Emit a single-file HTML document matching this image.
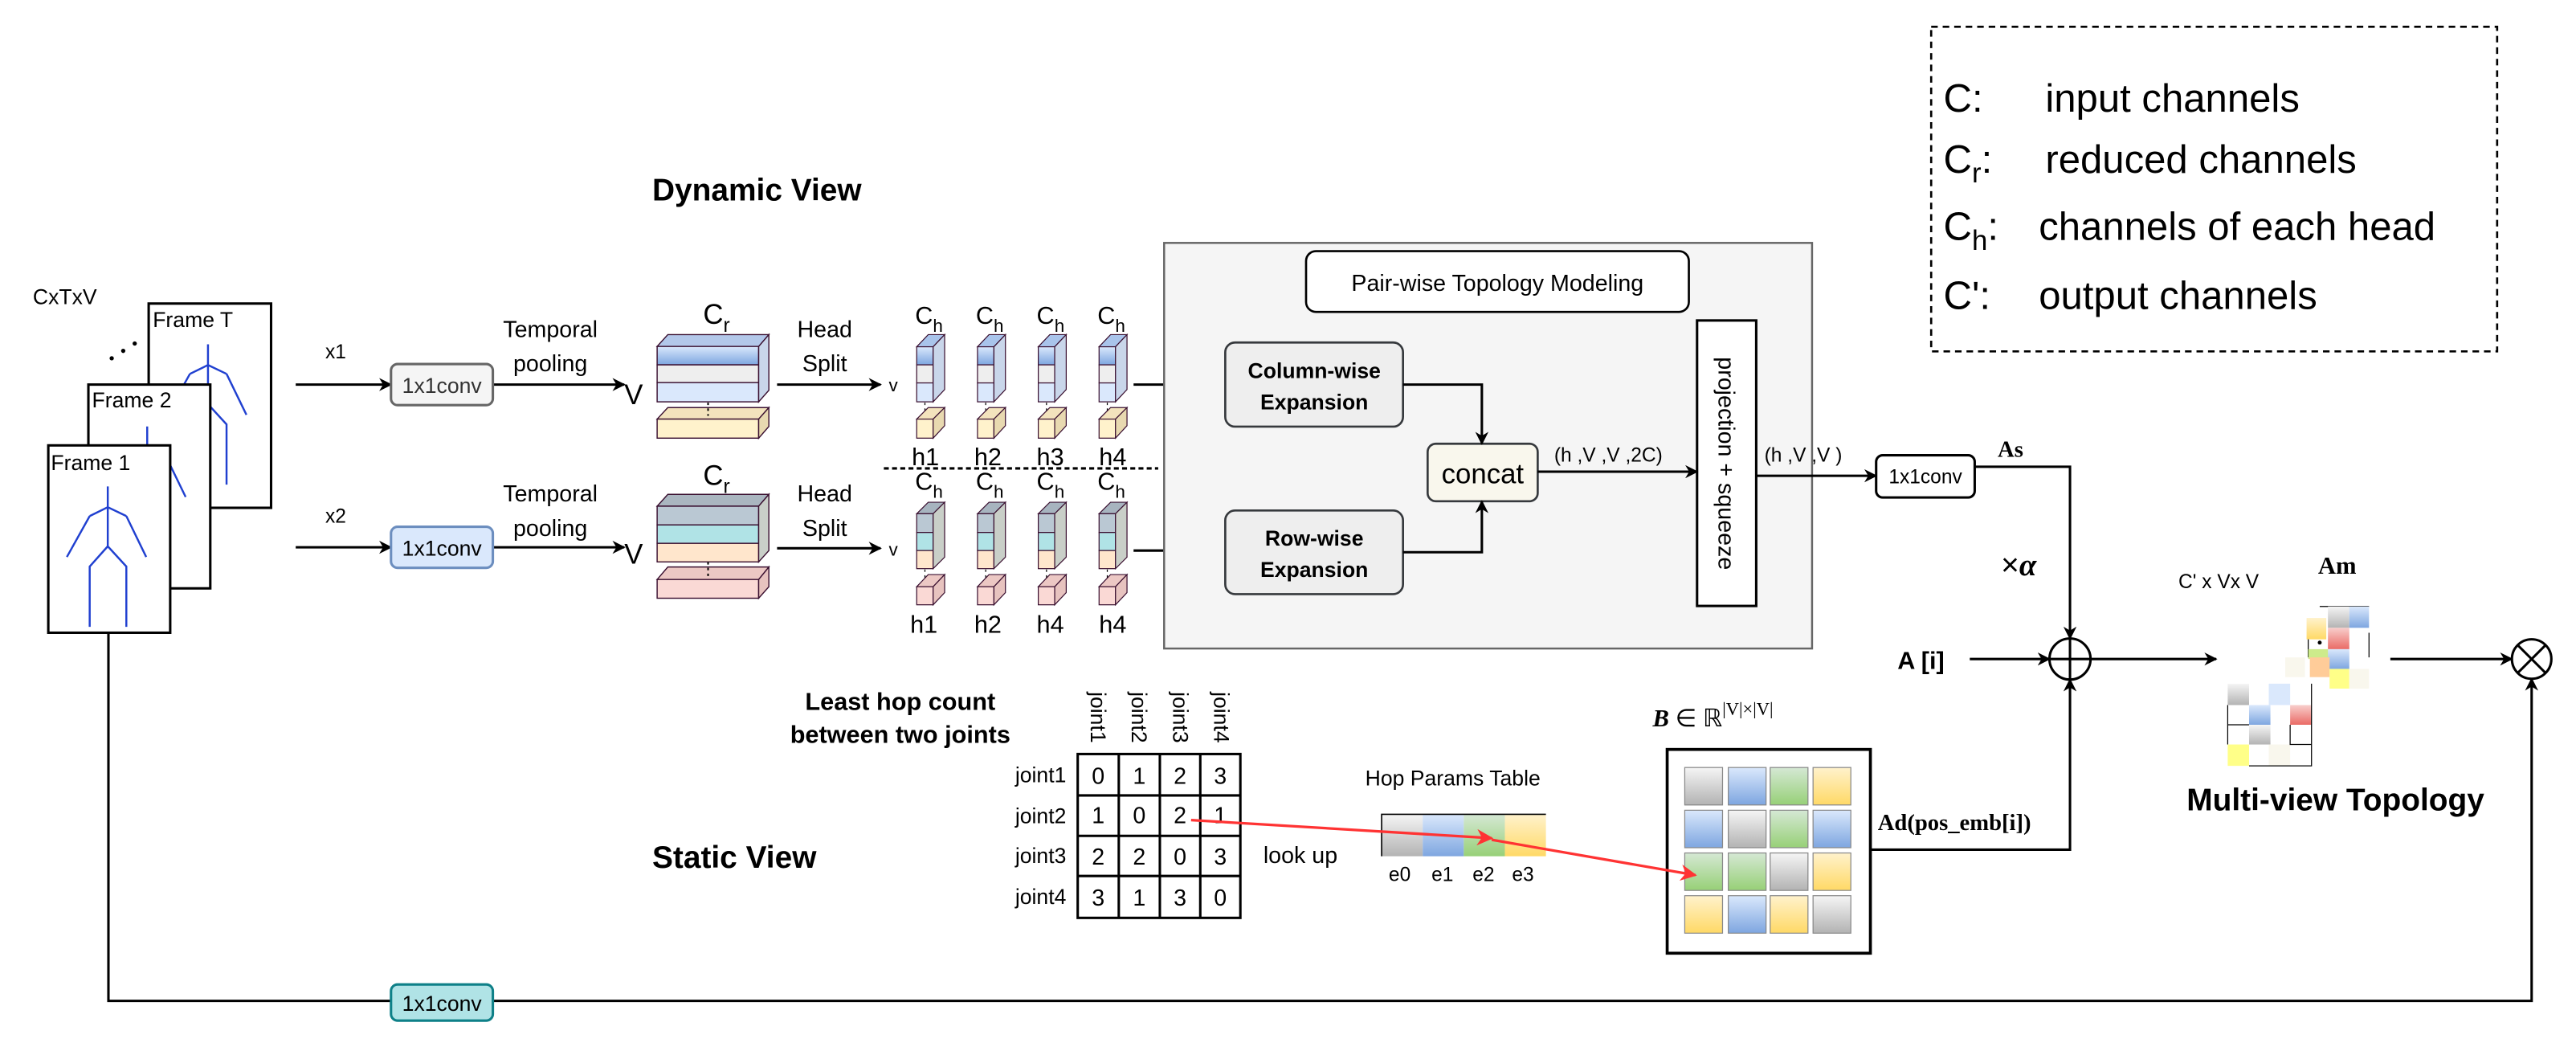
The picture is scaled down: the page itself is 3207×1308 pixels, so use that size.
<!DOCTYPE html>
<html><head><meta charset="utf-8"><style>html,body{margin:0;padding:0;background:#fff}svg{display:block}</style></head>
<body>
<svg xmlns="http://www.w3.org/2000/svg" width="3207" height="1308" viewBox="0 0 1568 639.5" preserveAspectRatio="none" font-family="Liberation Sans, sans-serif">
<defs>
<marker id="ar" viewBox="0 0 10 10" refX="9" refY="5" markerWidth="8" markerHeight="8" markerUnits="userSpaceOnUse" orient="auto"><path d="M0,0 L10,5 L0,10 L3,5 z" fill="#000"/></marker>
<marker id="arr" viewBox="0 0 10 10" refX="9" refY="5" markerWidth="10" markerHeight="10" markerUnits="userSpaceOnUse" orient="auto"><path d="M0,0 L10,5 L0,10 L3,5 z" fill="#f33"/></marker>
<linearGradient id="gGray" x1="0" y1="0" x2="0" y2="1"><stop offset="0" stop-color="#f5f5f5"/><stop offset="1" stop-color="#b3b3b3"/></linearGradient>
<linearGradient id="gBlue" x1="0" y1="0" x2="0" y2="1"><stop offset="0" stop-color="#dae8fc"/><stop offset="1" stop-color="#7ea6e0"/></linearGradient>
<linearGradient id="gGreen" x1="0" y1="0" x2="0" y2="1"><stop offset="0" stop-color="#d5e8d4"/><stop offset="1" stop-color="#97d077"/></linearGradient>
<linearGradient id="gYel" x1="0" y1="0" x2="0" y2="1"><stop offset="0" stop-color="#fff2cc"/><stop offset="1" stop-color="#ffd966"/></linearGradient>
<linearGradient id="gRed" x1="0" y1="0" x2="0" y2="1"><stop offset="0" stop-color="#f8cecc"/><stop offset="1" stop-color="#ea6b66"/></linearGradient>
<g id="fig" fill="none" stroke="#2040d0" stroke-width="1.2">
<path d="M65.6,296 L65.6,332.4 M54.6,314 L65.6,308.6 L76.9,314 M54.6,314 L40.7,338.9 M76.9,314 L89,338.9 M65.6,332.4 L54.6,344.7 L54.6,381.4 M65.6,332.4 L76.9,344.7 L76.9,381.4"/>
</g>
<g id="hu" stroke="#3a1030" stroke-width="0.6">
<polygon points="0,211 7,203.6 17,203.6 10,211" fill="#a9c4eb"/>
<rect x="0" y="211" width="10" height="11" fill="url(#gBlue)"/>
<rect x="0" y="222" width="10" height="11" fill="#eeeeee"/>
<rect x="0" y="233" width="10" height="11.5" fill="#dae8fc"/>
<polygon points="10,211 17,203.6 17,237 10,244.5" fill="#c9d6ea"/>
<line x1="5" y1="245" x2="5" y2="253" stroke="#000" stroke-dasharray="1.5,2"/>
<polygon points="0,255 7,248 17,248 10,255" fill="#f3e3bd"/>
<rect x="0" y="255" width="10" height="11.6" fill="#fff2cc"/>
<polygon points="10,255 17,248 17,259 10,266.6" fill="#e8d9b0"/>
</g>
<g id="hl" stroke="#3a1030" stroke-width="0.6">
<polygon points="0,312.6 7,305.6 17,305.6 10,312.6" fill="#a7b4bf"/>
<rect x="0" y="312.6" width="10" height="11.4" fill="#bac8d3"/>
<rect x="0" y="324" width="10" height="11" fill="#b0e3e6"/>
<rect x="0" y="335" width="10" height="11" fill="#ffe6cc"/>
<polygon points="10,312.6 17,305.6 17,339 10,346" fill="#c9cfc8"/>
<line x1="5" y1="346.5" x2="5" y2="355" stroke="#000" stroke-dasharray="1.5,2"/>
<polygon points="0,357 7,349.6 17,349.6 10,357" fill="#ecc8c4"/>
<rect x="0" y="357" width="10" height="11" fill="#fad9d5"/>
<polygon points="10,357 17,349.6 17,360.6 10,368" fill="#e7c3bf"/>
</g>
</defs>

<rect x="1175.5" y="16.3" width="344.5" height="197.5" fill="none" stroke="#000" stroke-width="1.3" stroke-dasharray="4,3"/>
<g font-size="24" fill="#000">
<text x="1183" y="68">C:</text><text x="1245" y="68">input channels</text>
<text x="1183" y="105">C<tspan font-size="17" dy="6">r</tspan><tspan dy="-6">:</tspan></text><text x="1245" y="105">reduced channels</text>
<text x="1183" y="146">C<tspan font-size="17" dy="6">h</tspan><tspan dy="-6">:</tspan></text><text x="1241" y="146">channels of each head</text>
<text x="1183" y="188">C':</text><text x="1241" y="188">output channels</text>
</g>

<text x="397" y="122" font-size="19" font-weight="bold">Dynamic View</text>
<text x="397" y="528" font-size="19" font-weight="bold">Static View</text>
<text x="20" y="185" font-size="13">CxTxV</text>

<rect x="90.5" y="184.7" width="74.5" height="124.3" fill="#fff" stroke="#000" stroke-width="1.5"/>
<use href="#fig" transform="translate(61,-86.5)"/>
<text x="93" y="199" font-size="13">Frame T</text>
<circle cx="68" cy="218" r="1.3"/><circle cx="75" cy="213.5" r="1.3"/><circle cx="82" cy="209" r="1.3"/>
<rect x="53.8" y="234" width="74.2" height="124" fill="#fff" stroke="#000" stroke-width="1.5"/>
<use href="#fig" transform="translate(24,-36.5)"/>
<text x="56" y="248" font-size="13">Frame 2</text>
<rect x="29.4" y="271" width="74.2" height="114" fill="#fff" stroke="#000" stroke-width="1.5"/>
<use href="#fig"/>
<text x="31" y="286" font-size="13">Frame 1</text>

<g stroke="#000" stroke-width="1.5" fill="none">
<line x1="180" y1="234" x2="238" y2="234" marker-end="url(#ar)"/>
<line x1="300" y1="234" x2="380" y2="234" marker-end="url(#ar)"/>
<line x1="180" y1="333" x2="238" y2="333" marker-end="url(#ar)"/>
<line x1="300" y1="333" x2="380" y2="333" marker-end="url(#ar)"/>
<line x1="473" y1="234" x2="536" y2="234" marker-end="url(#ar)"/>
<line x1="473" y1="333.6" x2="536" y2="333.6" marker-end="url(#ar)"/>
<line x1="690" y1="234" x2="745" y2="234" marker-end="url(#ar)"/>
<line x1="690" y1="335" x2="745" y2="335" marker-end="url(#ar)"/>
</g>
<rect x="238" y="221.5" width="62" height="25" rx="4" fill="#f5f5f5" stroke="#666" stroke-width="1.5"/>
<text x="269" y="239" font-size="13" text-anchor="middle" fill="#333">1x1conv</text>
<rect x="238" y="320.5" width="62" height="25" rx="4" fill="#dae8fc" stroke="#6c8ebf" stroke-width="1.5"/>
<text x="269" y="338" font-size="13" text-anchor="middle">1x1conv</text>
<text x="198" y="218" font-size="12">x1</text>
<text x="198" y="318" font-size="12">x2</text>
<g font-size="14" text-anchor="middle">
<text x="335" y="205">Temporal</text><text x="335" y="226">pooling</text>
<text x="335" y="305">Temporal</text><text x="335" y="326">pooling</text>
<text x="502" y="205">Head</text><text x="502" y="226">Split</text>
<text x="502" y="305">Head</text><text x="502" y="326">Split</text>
</g>
<text x="380" y="246" font-size="17">V</text>
<text x="380" y="343" font-size="17">V</text>
<text x="541" y="238" font-size="11">v</text>
<text x="541" y="338" font-size="11">v</text>

<g stroke="#3a1030" stroke-width="0.7">
<polygon points="400,210.8 406.5,203.6 468,203.6 461.8,210.8" fill="#b3c8ea"/>
<rect x="400" y="210.8" width="61.8" height="11.2" fill="url(#gBlue)"/>
<rect x="400" y="222" width="61.8" height="10.8" fill="#eeeeee"/>
<rect x="400" y="232.8" width="61.8" height="11.7" fill="#dae8fc"/>
<polygon points="461.8,210.8 468,203.6 468,237.5 461.8,244.5" fill="#c9d6ea"/>
<polygon points="400,255 406.5,248 468,248 461.8,255" fill="#f3e3bd"/>
<rect x="400" y="255" width="61.8" height="11.6" fill="#fff2cc"/>
<polygon points="461.8,255 468,248 468,259.5 461.8,266.6" fill="#e8d9b0"/>
<polygon points="400,308 406.5,300.8 468,300.8 461.8,308" fill="#aab6c0"/>
<rect x="400" y="308" width="61.8" height="11.4" fill="#bac8d3"/>
<rect x="400" y="319.4" width="61.8" height="11.2" fill="#b0e3e6"/>
<rect x="400" y="330.6" width="61.8" height="11.3" fill="#ffe6cc"/>
<polygon points="461.8,308 468,300.8 468,335 461.8,341.9" fill="#c9cfc8"/>
<polygon points="400,352.6 406.5,345 468,345 461.8,352.6" fill="#ecc8c4"/>
<rect x="400" y="352.6" width="61.8" height="11.4" fill="#fad9d5"/>
<polygon points="461.8,352.6 468,345 468,357 461.8,364" fill="#e7c3bf"/>
</g>
<line x1="431" y1="245" x2="431" y2="253" stroke="#000" stroke-dasharray="1.5,2"/>
<line x1="431" y1="342" x2="431" y2="351" stroke="#000" stroke-dasharray="1.5,2"/>
<text x="428" y="197" font-size="17">C<tspan font-size="12" dy="5">r</tspan></text>
<text x="428" y="295" font-size="17">C<tspan font-size="12" dy="5">r</tspan></text>

<use href="#hu" x="558"/><use href="#hu" x="595"/><use href="#hu" x="632"/><use href="#hu" x="669"/>
<use href="#hl" x="558"/><use href="#hl" x="595"/><use href="#hl" x="632"/><use href="#hl" x="669"/>
<g font-size="15">
<text x="557" y="197">C<tspan font-size="11" dy="5">h</tspan></text>
<text x="594" y="197">C<tspan font-size="11" dy="5">h</tspan></text>
<text x="631" y="197">C<tspan font-size="11" dy="5">h</tspan></text>
<text x="668" y="197">C<tspan font-size="11" dy="5">h</tspan></text>
<text x="557" y="298">C<tspan font-size="11" dy="5">h</tspan></text>
<text x="594" y="298">C<tspan font-size="11" dy="5">h</tspan></text>
<text x="631" y="298">C<tspan font-size="11" dy="5">h</tspan></text>
<text x="668" y="298">C<tspan font-size="11" dy="5">h</tspan></text>
<text x="555" y="283">h1</text><text x="593" y="283">h2</text><text x="631" y="283">h3</text><text x="669" y="283">h4</text>
<text x="554" y="385">h1</text><text x="593" y="385">h2</text><text x="631" y="385">h4</text><text x="669" y="385">h4</text>
</g>
<line x1="538" y1="285" x2="705" y2="285" stroke="#000" stroke-width="1.5" stroke-dasharray="3,2"/>

<rect x="708.6" y="147.8" width="394.4" height="246.8" fill="#f5f5f5" stroke="#666" stroke-width="1.2"/>
<rect x="795" y="152.8" width="233" height="37" rx="6" fill="#fff" stroke="#000" stroke-width="1.3"/>
<text x="911.5" y="177" font-size="14" text-anchor="middle">Pair-wise Topology Modeling</text>
<rect x="745.8" y="208.4" width="108.2" height="51.2" rx="6" fill="#eeeeee" stroke="#36393d" stroke-width="1.3"/>
<text x="800" y="230" font-size="13" font-weight="bold" text-anchor="middle">Column-wise</text>
<text x="800" y="249" font-size="13" font-weight="bold" text-anchor="middle">Expansion</text>
<rect x="745.8" y="310.6" width="108.2" height="50.9" rx="6" fill="#eeeeee" stroke="#36393d" stroke-width="1.3"/>
<text x="800" y="332" font-size="13" font-weight="bold" text-anchor="middle">Row-wise</text>
<text x="800" y="351" font-size="13" font-weight="bold" text-anchor="middle">Expansion</text>
<rect x="869" y="270" width="67" height="35" rx="5" fill="#f9f7ed" stroke="#36393d" stroke-width="1.3"/>
<text x="902.5" y="294" font-size="17" text-anchor="middle">concat</text>
<rect x="1033" y="195" width="36" height="173.7" fill="#fff" stroke="#000" stroke-width="1.5"/>
<text transform="translate(1046,282) rotate(90)" font-size="14" text-anchor="middle">projection + squeeze</text>
<g stroke="#000" stroke-width="1.5" fill="none">
<polyline points="854,234 902,234 902,270" marker-end="url(#ar)"/>
<polyline points="854,336 902,336 902,305" marker-end="url(#ar)"/>
<line x1="936" y1="287" x2="1033" y2="287" marker-end="url(#ar)"/>
<line x1="1069" y1="289.5" x2="1142" y2="289.5" marker-end="url(#ar)"/>
<polyline points="1202,284 1260,284 1260,388.5" marker-end="url(#ar)"/>
<line x1="1199" y1="401" x2="1247.5" y2="401" marker-end="url(#ar)"/>
<line x1="1272.5" y1="401" x2="1349" y2="401" marker-end="url(#ar)"/>
<polyline points="1138.5,517 1260,517 1260,413.5" marker-end="url(#ar)"/>
<line x1="1455" y1="401" x2="1529" y2="401" marker-end="url(#ar)"/>
<polyline points="66,385 66,609 238,609"/>
<polyline points="300,609 1541,609 1541,413" marker-end="url(#ar)"/>
</g>
<text x="946" y="281" font-size="12">(h ,V ,V ,2C)</text>
<text x="1074" y="281" font-size="12">(h ,V ,V )</text>
<rect x="1142" y="277" width="60" height="25.7" rx="4" fill="#fff" stroke="#000" stroke-width="1.5"/>
<text x="1172" y="294" font-size="12" text-anchor="middle">1x1conv</text>
<text x="1216" y="278" font-size="14" font-weight="bold" font-family="Liberation Serif, serif">As</text>
<text x="1218" y="350" font-size="19">×<tspan font-style="italic" font-weight="bold" font-family="Liberation Serif, serif">α</tspan></text>
<text x="1155" y="407" font-size="15" font-weight="bold">A [i]</text>
<circle cx="1260" cy="401" r="12.5" fill="#fff" stroke="#000" stroke-width="1.5"/>
<path d="M1247.5,401 H1272.5 M1260,388.5 V413.5" stroke="#000" stroke-width="1.5"/>
<circle cx="1541" cy="401" r="12" fill="#fff" stroke="#000" stroke-width="1.5"/>
<path d="M1532.5,392.5 L1549.5,409.5 M1549.5,392.5 L1532.5,409.5" stroke="#000" stroke-width="1.5"/>
<rect x="238" y="599" width="62" height="22" rx="4" fill="#b0e3e6" stroke="#0e8088" stroke-width="1.5"/>
<text x="269" y="615" font-size="13" text-anchor="middle">1x1conv</text>

<text x="1326" y="358" font-size="12">C' x Vx V</text>
<text x="1411" y="349" font-size="15" font-weight="bold" font-family="Liberation Serif, serif">Am</text>
<circle cx="1412" cy="391" r="1.2"/><circle cx="1419" cy="387" r="1.2"/>
<g stroke="#000" stroke-width="0.6" fill="none">
<path d="M1412,369 H1442 M1405,385 V400 M1442,385 V400"/>
<path d="M1380,446 H1400 V419"/>
</g>
<rect x="1417" y="369" width="13" height="13" fill="url(#gGray)"/><rect x="1430" y="369" width="12" height="13" fill="url(#gBlue)"/>
<rect x="1404" y="376" width="12" height="13" fill="url(#gYel)"/><rect x="1417" y="382" width="13" height="13" fill="url(#gRed)"/>
<rect x="1405" y="395" width="13" height="6" fill="#cdeb8b"/><rect x="1417" y="395" width="13" height="12" fill="url(#gBlue)"/>
<rect x="1391" y="400" width="12" height="12" fill="#f9f7ed"/><rect x="1406" y="400" width="12" height="12" fill="#ffcc99"/>
<rect x="1418" y="407" width="12" height="12" fill="#ffff88"/><rect x="1430" y="407" width="12" height="12" fill="#f9f7ed"/>
<rect x="1356" y="416" width="51" height="50" fill="#fff"/>
<rect x="1356" y="416" width="13" height="13" fill="url(#gGray)"/><rect x="1381" y="416" width="13" height="13" fill="#dae8fc"/>
<rect x="1369" y="429" width="13" height="12" fill="url(#gBlue)"/><rect x="1394" y="429" width="13" height="12" fill="url(#gRed)"/>
<rect x="1369" y="441" width="13" height="12" fill="url(#gGray)"/>
<rect x="1356" y="453" width="13" height="13" fill="#ffff88"/><rect x="1381" y="453" width="13" height="13" fill="#f9f7ed"/>
<g stroke="#000" stroke-width="0.6" fill="none">
<path d="M1407,416 V466 H1369 M1356,429 V453 M1356,441 H1369 M1394,441 V453 H1407"/>
</g>
<text x="1331" y="493" font-size="19" font-weight="bold">Multi-view Topology</text>

<text x="548" y="432" font-size="15" font-weight="bold" text-anchor="middle">Least hop count</text>
<text x="548" y="452" font-size="15" font-weight="bold" text-anchor="middle">between two joints</text>
<g font-size="13">
<text transform="translate(664,421) rotate(90)">joint1</text>
<text transform="translate(689,421) rotate(90)">joint2</text>
<text transform="translate(714,421) rotate(90)">joint3</text>
<text transform="translate(739,421) rotate(90)">joint4</text>
<g text-anchor="end">
<text x="649" y="476">joint1</text><text x="649" y="501">joint2</text><text x="649" y="525">joint3</text><text x="649" y="550">joint4</text>
</g>
</g>
<g stroke="#000" stroke-width="1.5" fill="none">
<rect x="656" y="458.8" width="99" height="99.7"/>
<path d="M656,484 H755 M656,508.6 H755 M656,533 H755 M681,458.8 V558.5 M706,458.8 V558.5 M730.6,458.8 V558.5"/>
</g>
<g font-size="14" text-anchor="middle">
<text x="668.5" y="477">0</text><text x="693.5" y="477">1</text><text x="718.3" y="477">2</text><text x="742.8" y="477">3</text>
<text x="668.5" y="501">1</text><text x="693.5" y="501">0</text><text x="718.3" y="501">2</text><text x="742.8" y="501">1</text>
<text x="668.5" y="526">2</text><text x="693.5" y="526">2</text><text x="718.3" y="526">0</text><text x="742.8" y="526">3</text>
<text x="668.5" y="551">3</text><text x="693.5" y="551">1</text><text x="718.3" y="551">3</text><text x="742.8" y="551">0</text>
</g>
<text x="769" y="525" font-size="14">look up</text>
<text x="831" y="478" font-size="13">Hop Params Table</text>
<rect x="841" y="495.5" width="25" height="25.5" fill="url(#gGray)"/>
<rect x="866" y="495.5" width="25" height="25.5" fill="url(#gBlue)"/>
<rect x="891" y="495.5" width="25" height="25.5" fill="url(#gGreen)"/>
<rect x="916" y="495.5" width="25" height="25.5" fill="url(#gYel)"/>
<path d="M841,521 V495.5 H941" stroke="#000" stroke-width="0.8" fill="none"/>
<g font-size="12" text-anchor="middle"><text x="852" y="536">e0</text><text x="878" y="536">e1</text><text x="903" y="536">e2</text><text x="927" y="536">e3</text></g>
<text x="1006" y="442" font-size="15" font-family="Liberation Serif, serif"><tspan font-style="italic" font-weight="bold">B</tspan> ∈ ℝ<tspan font-size="11" dy="-7">|V|×|V|</tspan></text>
<rect x="1014.8" y="456" width="123.7" height="124" fill="#fff" stroke="#000" stroke-width="1.8"/>
<g stroke="#888" stroke-width="0.6">
<rect x="1025.5" y="467" width="23" height="22.8" fill="url(#gGray)"/><rect x="1052" y="467" width="23" height="22.8" fill="url(#gBlue)"/><rect x="1077.5" y="467" width="23" height="22.8" fill="url(#gGreen)"/><rect x="1103.6" y="467" width="23" height="22.8" fill="url(#gYel)"/>
<rect x="1025.5" y="493" width="23" height="22.8" fill="url(#gBlue)"/><rect x="1052" y="493" width="23" height="22.8" fill="url(#gGray)"/><rect x="1077.5" y="493" width="23" height="22.8" fill="url(#gGreen)"/><rect x="1103.6" y="493" width="23" height="22.8" fill="url(#gBlue)"/>
<rect x="1025.5" y="519" width="23" height="22.8" fill="url(#gGreen)"/><rect x="1052" y="519" width="23" height="22.8" fill="url(#gGreen)"/><rect x="1077.5" y="519" width="23" height="22.8" fill="url(#gGray)"/><rect x="1103.6" y="519" width="23" height="22.8" fill="url(#gYel)"/>
<rect x="1025.5" y="545" width="23" height="22.8" fill="url(#gYel)"/><rect x="1052" y="545" width="23" height="22.8" fill="url(#gBlue)"/><rect x="1077.5" y="545" width="23" height="22.8" fill="url(#gYel)"/><rect x="1103.6" y="545" width="23" height="22.8" fill="url(#gGray)"/>
</g>
<text x="1143" y="505" font-size="14" font-family="Liberation Serif, serif" font-weight="bold">Ad(pos_emb[i])</text>
<g stroke="#f33" stroke-width="1.6" fill="none">
<line x1="725" y1="499" x2="908" y2="510" marker-end="url(#arr)"/>
<line x1="908" y1="511" x2="1032" y2="532.5" marker-end="url(#arr)"/>
</g>
</svg>
</body></html>
